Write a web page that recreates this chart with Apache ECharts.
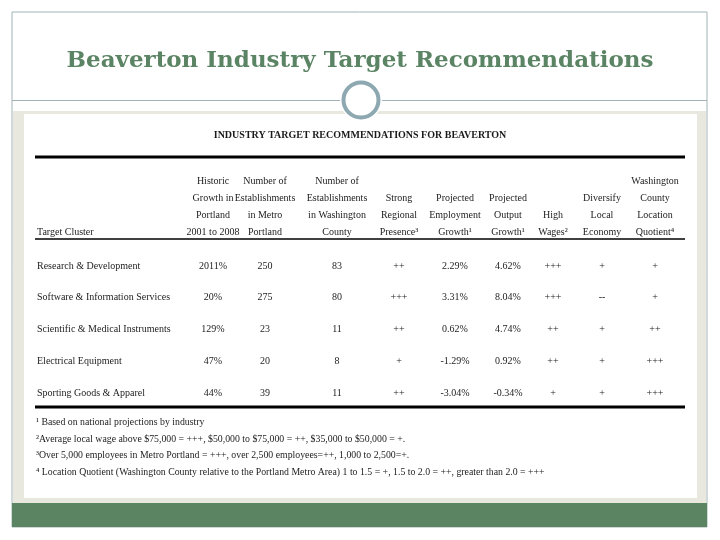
<!DOCTYPE html>
<html>
<head>
<meta charset="utf-8">
<script src="https://cdn.jsdelivr.net/npm/echarts@6/dist/echarts.min.js"></script>
<style>
  html, body { margin: 0; padding: 0; background: #fff; }
  #main { width: 720px; height: 540px; }
</style>
</head>
<body>
<div id="main"></div>
<script>
// table data
const clusters = ['Research & Development', 'Software & Information Services', 'Scientific & Medical Instruments', 'Electrical Equipment', 'Sporting Goods & Apparel'];
const historicGrowth = [2011, 20, 129, 47, 44];
const estMetro = [250, 275, 23, 20, 39];
const estWashington = [83, 80, 11, 8, 11];
const regionalPresence = ['++', '+++', '++', '+', '++'];
const empGrowth = [2.29, 3.31, 0.62, -1.29, -3.04];
const outputGrowth = [4.62, 8.04, 4.74, 0.92, -0.34];
const highWages = ['+++', '+++', '++', '++', '+'];
const diversify = ['+', '--', '+', '+', '+'];
const locationQuotient = ['+', '+', '++', '+++', '+++'];

const headerLabels = [
  'Target Cluster',
  'Historic\nGrowth in\nPortland\n2001 to 2008',
  'Number of\nEstablishments\nin Metro\nPortland',
  'Number of\nEstablishments\nin Washington\nCounty',
  'Strong\nRegional\nPresence³',
  'Projected\nEmployment\nGrowth¹',
  'Projected\nOutput\nGrowth¹',
  'High\nWages²',
  'Diversify\nLocal\nEconomy',
  'Washington\nCounty\nLocation\nQuotient⁴'
];

const footnotes = [
  '¹ Based on national projections by industry',
  '²Average local wage above $75,000 = +++, $50,000 to $75,000 = ++, $35,000 to $50,000 = +.',
  '³Over 5,000 employees in Metro Portland = +++, over 2,500 employees=++, 1,000 to 2,500=+.',
  '⁴ Location Quotient (Washington County relative to the Portland Metro Area) 1 to 1.5 = +, 1.5 to 2.0 = ++, greater than 2.0 = +++'
];

const pct = v => v.toFixed(2) + '%';
const columns = [
  clusters,
  historicGrowth.map(v => v + '%'),
  estMetro,
  estWashington,
  regionalPresence,
  empGrowth.map(pct),
  outputGrowth.map(pct),
  highWages,
  diversify,
  locationQuotient
];

// layout (column centres in px)
const colCenter = [37, 213, 265, 337, 399, 455, 508, 553, 602, 655];
const tableTop = 250, tableHeight = 159.5;
const serif = '"Liberation Serif", "DejaVu Serif", serif';
const ink = '#1c1c1c';
const fs = 10;

const grids = colCenter.map((c, j) => ({
  left: j === 0 ? c - 1 : c - 20,
  width: j === 0 ? 2 : 40,
  top: tableTop,
  height: tableHeight
}));

const xAxes = headerLabels.map((h, j) => ({
  type: 'category',
  gridIndex: j,
  position: 'top',
  data: [h],
  axisLine: { show: false },
  axisTick: { show: false },
  axisLabel: {
    interval: 0,
    margin: 9,
    align: j === 0 ? 'left' : 'center',
    fontFamily: serif,
    fontSize: fs,
    lineHeight: 17,
    color: ink
  }
}));

const yAxes = colCenter.map((c, j) => ({
  type: 'category',
  gridIndex: j,
  inverse: true,
  data: clusters,
  show: false
}));

const series = columns.map((col, j) => ({
  type: 'scatter',
  xAxisIndex: j,
  yAxisIndex: j,
  symbolSize: 0,
  silent: true,
  itemStyle: { color: ink, opacity: 1 },
  label: {
    show: true,
    position: j === 0 ? 'right' : 'inside',
    distance: 0,
    formatter: '{b}',
    fontFamily: serif,
    fontSize: fs,
    color: ink
  },
  data: col.map((t, i) => ({ name: String(t), value: [0, i] }))
}));

const chart = echarts.init(document.getElementById('main'));
chart.setOption({
  animation: false,
  backgroundColor: '#ffffff',
  title: [
    {
      text: 'Beaverton Industry Target Recommendations',
      left: 'center',
      top: 45,
      textStyle: { fontFamily: '"DejaVu Serif", serif', fontWeight: 'bold', fontSize: 23, color: '#5b8464' }
    },
    {
      text: 'INDUSTRY TARGET RECOMMENDATIONS FOR BEAVERTON',
      left: 'center',
      top: 125,
      textStyle: { fontFamily: serif, fontWeight: 'bold', fontSize: 10, color: '#1a1a1a' }
    }
  ],
  grid: grids,
  xAxis: xAxes,
  yAxis: yAxes,
  series: series,
  graphic: [
    { type: 'rect', z: -10, shape: { x: 12, y: 12, width: 695, height: 515 }, style: { fill: '#fff', stroke: '#a3b2b6', lineWidth: 1 } },
    { type: 'rect', z: -9, shape: { x: 13, y: 111, width: 693, height: 392 }, style: { fill: '#e8e8df' } },
    { type: 'rect', z: -8, shape: { x: 24, y: 114, width: 673, height: 384 }, style: { fill: '#ffffff' } },
    { type: 'rect', z: -8, shape: { x: 12, y: 503, width: 695, height: 24 }, style: { fill: '#5a8462' } },
    { type: 'line', z: -7, shape: { x1: 12, y1: 100.5, x2: 707, y2: 100.5 }, style: { stroke: '#a3b2b6', lineWidth: 1 } },
    { type: 'circle', z: -6, shape: { cx: 361, cy: 100, r: 21 }, style: { fill: '#ffffff' } },
    { type: 'circle', z: -5, shape: { cx: 361, cy: 100, r: 17.5 }, style: { fill: '#ffffff', stroke: '#8ea8b2', lineWidth: 4 } },
    // table rules
    { type: 'line', z: -4, shape: { x1: 35, y1: 157, x2: 685, y2: 157 }, style: { stroke: '#000', lineWidth: 3 } },
    { type: 'line', z: -4, shape: { x1: 35, y1: 239, x2: 685, y2: 239 }, style: { stroke: '#000', lineWidth: 1.5 } },
    { type: 'line', z: -4, shape: { x1: 35, y1: 407, x2: 685, y2: 407 }, style: { stroke: '#000', lineWidth: 3 } }
  ].concat(footnotes.map((t, i) => ({
    type: 'text',
    z: 5,
    left: 36,
    top: 417.5 + i * 16.6,
    style: { text: t, fontFamily: serif, fontSize: 9.8, fill: ink }
  })))
});
</script>
</body>
</html>
